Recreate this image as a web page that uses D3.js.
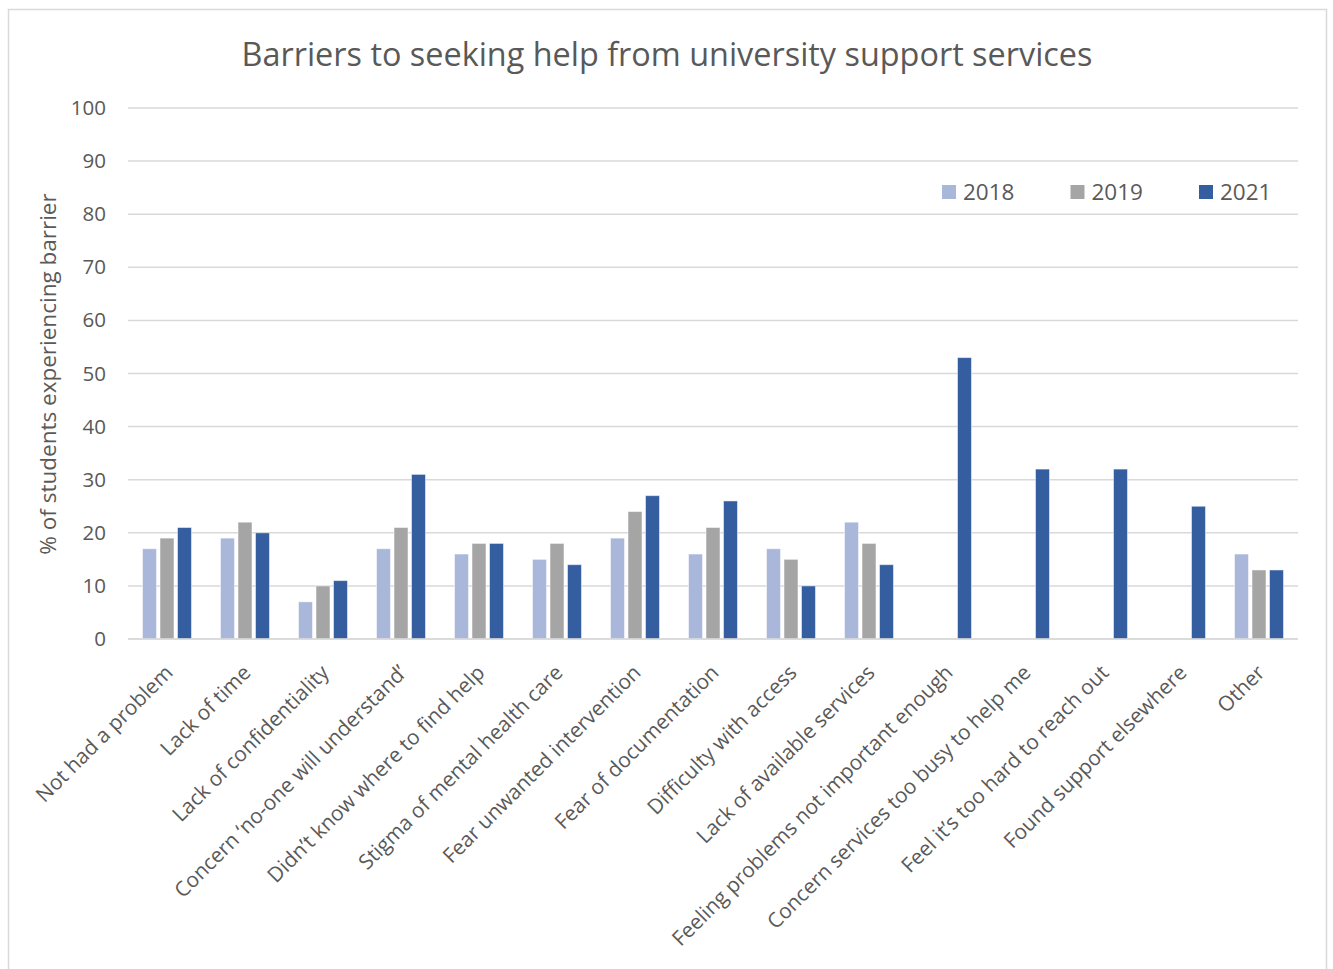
<!DOCTYPE html>
<html>
<head>
<meta charset="utf-8">
<script src="https://cdn.jsdelivr.net/npm/d3@7"></script>
<style>
  html, body { margin: 0; padding: 0; background: #fff; }
  svg { display: block; }
  text { font-family: "Open Sans", sans-serif; fill: #595959; }
</style>
</head>
<body>
<div id="chart"></div>
<script>
// Barriers to seeking help, by survey year (% of students)
const categories = [
  "Not had a problem",
  "Lack of time",
  "Lack of confidentiality",
  "Concern \u2018no-one will understand\u2019",
  "Didn\u2019t know where to find help",
  "Stigma of mental health care",
  "Fear unwanted intervention",
  "Fear of documentation",
  "Difficulty with access",
  "Lack of available services",
  "Feeling problems not important enough",
  "Concern services too busy to help me",
  "Feel it\u2019s too hard to reach out",
  "Found support elsewhere",
  "Other"
];
const seriesNames = ["2018", "2019", "2021"];
const values2018 = [17, 19, 7, 17, 16, 15, 19, 16, 17, 22, null, null, null, null, 16];
const values2019 = [19, 22, 10, 21, 18, 18, 24, 21, 15, 18, null, null, null, null, 13];
const values2021 = [21, 20, 11, 31, 18, 14, 27, 26, 10, 14, 53, 32, 32, 25, 13];
const yTicks = [0, 10, 20, 30, 40, 50, 60, 70, 80, 90, 100];
const colors = ["#a9b7db", "#a5a5a5", "#355ea1"];

const W = 1333, H = 969;
const plot = { left: 128, right: 1298, top: 108, bottom: 639 };
const FONT = "'Open Sans', sans-serif";

const svg = d3.select("#chart").append("svg")
  .attr("width", W).attr("height", H);

// chart frame
svg.append("rect")
  .attr("x", 8.5).attr("y", 9.5)
  .attr("width", 1318).attr("height", 980)
  .attr("fill", "#fff").attr("stroke", "#d9d9d9").attr("stroke-width", 1.5);

const x = d3.scaleBand().domain(categories).range([plot.left, plot.right]);
const y = d3.scaleLinear().domain([0, 100]).range([plot.bottom, plot.top]);
const x1 = d3.scaleBand().domain(seriesNames)
  .range([0, x.bandwidth()]).paddingInner(0.2).paddingOuter(0.83);

// title
svg.append("text")
  .attr("x", 667).attr("y", 66)
  .attr("text-anchor", "middle")
  .style("font-size", "32.4px")
  .text("Barriers to seeking help from university support services");

// gridlines
svg.append("g").selectAll("line").data(yTicks).join("line")
  .attr("x1", plot.left).attr("x2", plot.right)
  .attr("y1", d => y(d)).attr("y2", d => y(d))
  .attr("stroke", "#d9d9d9").attr("stroke-width", 1.5);

// y axis labels
const yAxis = d3.axisLeft(y).tickValues(yTicks).tickSize(0).tickPadding(22);
const yg = svg.append("g").attr("transform", `translate(${plot.left},0)`).call(yAxis);
yg.select(".domain").remove();
yg.selectAll("text")
  .style("font-size", "20.5px").style("font-family", FONT)
  .attr("fill", "#595959");

// y axis title
svg.append("text")
  .attr("transform", `translate(56,374) rotate(-90)`)
  .attr("text-anchor", "middle")
  .style("font-size", "22.5px")
  .text("% of students experiencing barrier");

// bars
const series = [values2018, values2019, values2021];
const rows = [];
categories.forEach((c, i) => {
  seriesNames.forEach((s, j) => {
    const v = series[j][i];
    if (v != null) rows.push({ c, s, v, j });
  });
});
svg.append("g").selectAll("rect").data(rows).join("rect")
  .attr("x", d => x(d.c) + x1(d.s))
  .attr("width", x1.bandwidth())
  .attr("y", d => y(d.v))
  .attr("height", d => y(0) - y(d.v))
  .attr("fill", d => colors[d.j])
  .attr("stroke", "#ffffff").attr("stroke-opacity", 0.5).attr("stroke-width", 1);

// baseline
svg.append("line")
  .attr("x1", plot.left).attr("x2", plot.right)
  .attr("y1", y(0)).attr("y2", y(0))
  .attr("stroke", "#d9d9d9").attr("stroke-width", 1.5);

// category labels
const xAxis = d3.axisBottom(x).tickSize(0).tickPadding(0);
const xg = svg.append("g").attr("transform", `translate(0,${plot.bottom})`).call(xAxis);
xg.select(".domain").remove();
xg.selectAll("text")
  .style("font-size", "20.8px").style("font-family", FONT)
  .attr("fill", "#595959")
  .attr("text-anchor", "end")
  .attr("dy", null).attr("y", null)
  .attr("transform", "translate(7,35) rotate(-45)");

// legend
const legend = svg.append("g").selectAll("g").data(seriesNames).join("g")
  .attr("transform", (d, i) => `translate(${942 + i * 128.5},192)`);
legend.append("rect")
  .attr("x", 0).attr("y", -7).attr("width", 14).attr("height", 14)
  .attr("fill", (d, i) => colors[i]);
legend.append("text")
  .attr("x", 21).attr("y", 0).attr("dy", "0.35em")
  .style("font-size", "22.5px")
  .text(d => d);
</script>
</body>
</html>
